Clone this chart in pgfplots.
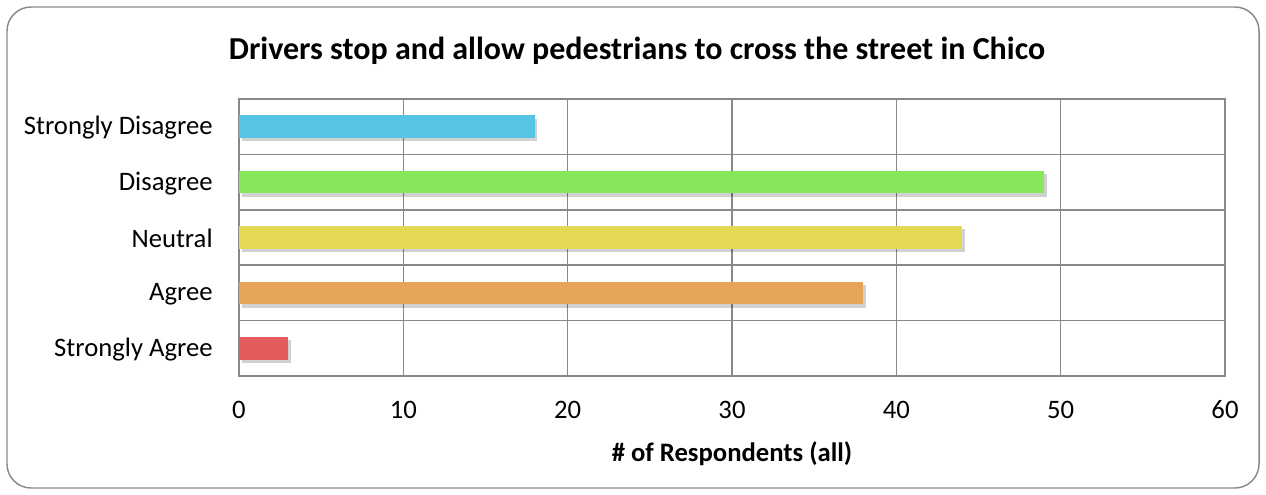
\documentclass[border=0pt]{standalone}
\usepackage{pgfplots}
\pgfplotsset{compat=1.18}
\usepackage{fontspec}
\setmainfont{Carlito}
\usetikzlibrary{shadows}
\definecolor{cSD}{HTML}{56C4E5}
\definecolor{cD}{HTML}{88E65A}
\definecolor{cN}{HTML}{E5D857}
\definecolor{cA}{HTML}{E6A35A}
\definecolor{cSA}{HTML}{E55A5A}
\definecolor{gridgray}{HTML}{898989}
\begin{document}
\begin{tikzpicture}[x=0.75pt,y=0.75pt]
\useasboundingbox (0,0) rectangle (1266,495);
\draw[gridgray, line width=1.1pt, rounded corners=18pt] (7,7) rectangle (1259,488);
\node[font=\fontsize{24}{28}\selectfont\bfseries] at (637,444) {Drivers stop and allow pedestrians to cross the street in Chico};
\begin{axis}[
  at={(179.25pt,89.25pt)}, anchor=south west,
  width=739.5pt, height=207.75pt, scale only axis,
  xbar, bar width=17pt, bar shift=0pt,
  xmin=0, xmax=60, ymin=-0.5, ymax=4.5,
  xtick={0,10,...,60},
  ytick={0,1,2,3,4},
  yticklabels={Strongly Agree, Agree, Neutral, Disagree, Strongly Disagree},
  minor ytick={0.5,1.5,2.5,3.5},
  xmajorgrids, yminorgrids,
  major tick style={draw=none}, minor tick style={draw=none},
  grid style={draw=gridgray, line width=1.1pt},
  axis line style={draw=gridgray, line width=1.1pt},
  /pgf/number format/assume math mode=true,
  ticklabel style={font=\fontsize{20}{24}\selectfont},
  xticklabel style={yshift=-15pt},
  yticklabel style={xshift=-12pt, yshift=-1pt},
  xlabel={\textbf{\# of Respondents (all)}},
  xlabel style={font=\fontsize{20}{24}\selectfont, yshift=-10pt},
  every axis plot/.append style={draw=none, drop shadow={shadow xshift=2pt, shadow yshift=-2.5pt, opacity=0.18, fill=black}},
]
\addplot[fill=cSA] coordinates {(3,0)};
\addplot[fill=cA] coordinates {(38,1)};
\addplot[fill=cN] coordinates {(44,2)};
\addplot[fill=cD] coordinates {(49,3)};
\addplot[fill=cSD] coordinates {(18,4)};
\end{axis}
\end{tikzpicture}
\end{document}
